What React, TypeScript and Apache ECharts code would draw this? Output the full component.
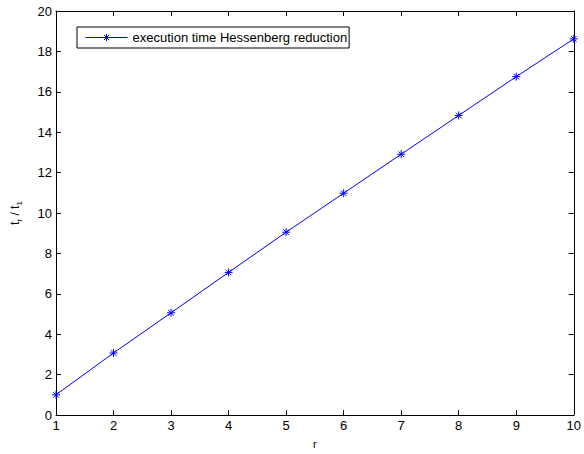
import React, { useEffect, useRef } from "react";
import * as echarts from "echarts";

const rValues = [1, 2, 3, 4, 5, 6, 7, 8, 9, 10];
const ratioValues = [1.0, 3.07, 5.06, 7.06, 9.05, 10.98, 12.91, 14.83, 16.75, 18.62];
const seriesName = "execution time Hessenberg reduction";

const FONT = "Liberation Sans, Arial, Helvetica, sans-serif";
const STAR = "path://M0,-1L0,1M-1,0L1,0M-0.7,-0.7L0.7,0.7M-0.7,0.7L0.7,-0.7";

export default function App() {
  const ref = useRef<HTMLDivElement>(null);
  useEffect(() => {
    if (!ref.current) return;
    const chart = echarts.init(ref.current, undefined, { renderer: "svg" });
    const tickCommon = { inside: true, length: 5, lineStyle: { color: "#000", width: 1 } };
    const lineCommon = { show: true, onZero: false, lineStyle: { color: "#000", width: 1 } };
    chart.setOption({
      animation: false,
      backgroundColor: "#fff",
      textStyle: { fontFamily: FONT },
      grid: { left: 56, top: 11, right: 7, bottom: 32, containLabel: false },
      legend: {
        show: true,
        left: 77,
        top: 27,
        orient: "vertical",
        data: [{ name: seriesName }],
        borderColor: "#000",
        borderWidth: 1,
        padding: [4, 2, 4, 8],
        itemWidth: 42,
        itemHeight: 9,
        lineStyle: { width: 1, color: "#0000ff" },
        itemStyle: { color: "none", borderColor: "#0000ff", borderWidth: 1 },
        textStyle: { fontFamily: FONT, fontSize: 13, color: "#000" },
      },
      xAxis: [
        {
          type: "value",
          min: 1,
          max: 10,
          interval: 1,
          position: "bottom",
          name: "r",
          nameLocation: "middle",
          nameGap: 23,
          nameTextStyle: { fontFamily: FONT, fontSize: 11, color: "#000" },
          axisLine: lineCommon,
          axisTick: tickCommon,
          axisLabel: { fontFamily: FONT, fontSize: 13, color: "#000", margin: 4 },
          splitLine: { show: false },
        },
        {
          type: "value",
          min: 1,
          max: 10,
          interval: 1,
          position: "top",
          axisLine: lineCommon,
          axisTick: tickCommon,
          axisLabel: { show: false },
          splitLine: { show: false },
        },
      ],
      yAxis: [
        {
          type: "value",
          min: 0,
          max: 20,
          interval: 2,
          position: "left",
          name: "{a|t}{s|r}{a| / t}{s|1}",
          nameLocation: "middle",
          nameGap: 33,
          nameTextStyle: {
            fontFamily: FONT,
            color: "#000",
            rich: {
              a: { fontFamily: FONT, fontSize: 12, color: "#000", verticalAlign: "top", lineHeight: 14 },
              s: { fontFamily: FONT, fontSize: 8, color: "#000", verticalAlign: "bottom", lineHeight: 14, padding: [6, 0, 0, 0] },
            },
          },
          axisLine: lineCommon,
          axisTick: tickCommon,
          axisLabel: { fontFamily: FONT, fontSize: 13, color: "#000", margin: 4 },
          splitLine: { show: false },
        },
        {
          type: "value",
          min: 0,
          max: 20,
          interval: 2,
          position: "right",
          axisLine: lineCommon,
          axisTick: tickCommon,
          axisLabel: { show: false },
          splitLine: { show: false },
        },
      ],
      series: [
        {
          name: seriesName,
          type: "line",
          xAxisIndex: 0,
          yAxisIndex: 0,
          data: rValues.map((r, i) => [r, ratioValues[i]]),
          symbol: STAR,
          symbolSize: 8,
          showSymbol: true,
          lineStyle: { color: "#0000ff", width: 1 },
          itemStyle: { color: "none", borderColor: "#0000ff", borderWidth: 1 },
          color: "#0000ff",
          emphasis: { disabled: true },
        },
      ],
    });
    return () => chart.dispose();
  }, []);
  return (
    <div
      ref={ref}
      style={{ position: "fixed", left: 0, top: 0, width: 584, height: 454, background: "#fff" }}
    />
  );
}
